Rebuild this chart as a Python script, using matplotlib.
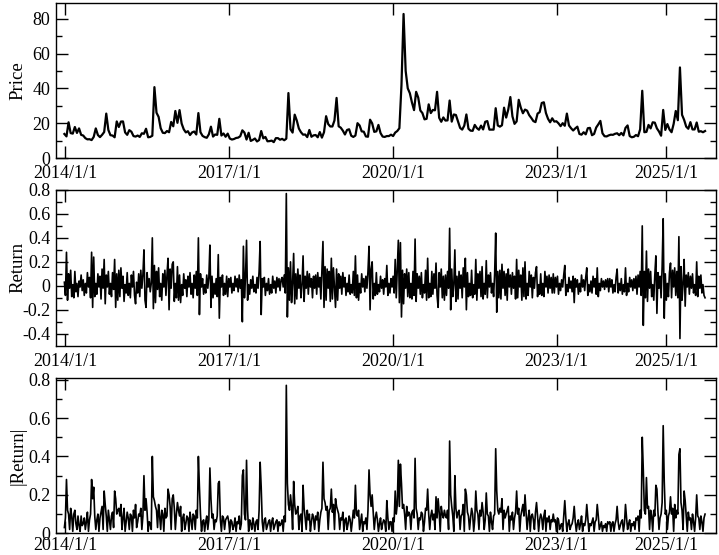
import matplotlib
matplotlib.use('Agg')
import matplotlib.pyplot as plt
import numpy as np
import pandas as pd

plt.rcParams['font.family'] = ['Liberation Serif', 'DejaVu Serif']
plt.rcParams['axes.unicode_minus'] = False

price_2014 = [13.8, 12.4, 20.5, 14.3, 14.0, 17.8, 14.4, 17.0, 13.3, 12.9, 11.4, 10.7, 10.8,
              10.3, 12.1, 17.0, 13.2, 12.0, 13.3, 14.9, 25.5, 16.1, 13.1, 12.9, 11.9, 21.0]
price_2015 = [17.8, 20.9, 21.0, 14.7, 13.3, 16.0, 15.1, 12.6, 12.3, 12.9, 12.1, 14.2, 13.9,
              16.8, 11.9, 12.1, 12.8, 40.7, 26.0, 23.6, 17.1, 14.5, 14.3, 15.5, 14.8, 20.7]
price_2016 = [18.2, 27.0, 20.2, 27.5, 19.8, 16.5, 14.7, 15.4, 13.2, 14.7, 15.2, 13.5, 25.8,
              14.8, 12.7, 12.0, 11.6, 13.6, 18.0, 12.3, 13.5, 13.3, 22.5, 12.9, 14.1, 12.2]
price_2017 = [14.0, 11.2, 10.6, 10.9, 11.5, 11.7, 12.5, 15.9, 14.6, 10.6, 14.5, 9.8, 10.4,
              11.2, 9.5, 10.3, 15.5, 11.3, 12.1, 9.6, 9.7, 10.0, 9.1, 11.4, 11.4, 10.5]
price_2018 = [11.0, 10.2, 11.1, 37.3, 16.5, 14.6, 24.9, 21.5, 16.9, 14.8, 13.4, 13.5, 12.0,
              16.1, 12.2, 13.0, 13.2, 11.9, 14.9, 11.7, 14.8, 24.0, 19.5, 18.1, 18.1, 21.6]
price_2019 = [34.5, 18.2, 17.4, 15.7, 13.5, 16.1, 16.5, 12.8, 12.1, 12.9, 20.0, 18.7, 15.3,
              15.1, 12.4, 12.2, 22.0, 19.9, 15.0, 15.3, 19.0, 14.3, 12.3, 12.1, 12.6, 12.6]
price_2020 = [13.4, 12.6, 14.6, 15.5, 17.1, 41.9, 82.7, 50.0, 40.0, 37.2, 31.9, 27.5, 38.0,
              34.7, 27.3, 25.8, 22.2, 22.5, 30.8, 25.8, 27.6, 27.4, 38.0, 23.1, 20.8, 23.3]
price_2021 = [21.5, 21.6, 33.0, 20.9, 25.0, 24.7, 21.0, 17.3, 16.3, 18.6, 25.0, 16.8, 15.7,
              15.6, 19.0, 17.2, 16.2, 18.6, 16.4, 20.8, 21.2, 16.3, 16.3, 16.3, 28.6, 18.7]
price_2022 = [18.0, 18.8, 28.9, 23.2, 27.8, 35.0, 23.9, 19.6, 21.0, 33.4, 28.9, 25.7, 27.8,
              27.2, 24.6, 23.0, 21.2, 20.6, 25.5, 26.3, 31.6, 32.0, 25.8, 22.5, 20.5, 22.8]
price_2023 = [20.9, 21.1, 19.9, 18.3, 20.0, 18.5, 25.5, 18.7, 17.1, 15.8, 17.0, 18.0, 13.8,
              13.4, 14.8, 13.6, 17.1, 17.3, 13.1, 13.8, 17.5, 19.3, 21.3, 14.2, 12.5, 12.4]
price_2024 = [13.0, 13.4, 13.3, 13.9, 14.2, 13.1, 14.4, 13.0, 17.3, 18.7, 12.6, 11.9, 12.2,
              13.2, 12.5, 16.5, 38.6, 14.8, 15.0, 19.0, 17.0, 20.5, 20.3, 17.0, 15.2, 12.8]
price_2025 = [27.6, 16.1, 19.5, 16.4, 14.8, 19.6, 27.0, 21.7, 52.0, 24.8, 21.9, 18.0, 16.8,
              20.6, 16.4, 16.4, 20.4, 15.1, 15.4, 14.8, 15.5]

# weekly return
ret_2014 = [0.03, -0.08, 0.28, -0.12, 0.10, -0.02, 0.13, -0.09, 0.01, -0.10,
            0.12, -0.05, 0.02, -0.09, 0.04, -0.01, 0.09, -0.04, 0.05, -0.08,
            0.02, -0.06, 0.11, -0.01, 0.07, -0.10, 0.28, -0.18, 0.24, -0.09,
            0.02, -0.07, 0.10, -0.01, 0.08, -0.11, 0.14, -0.02, 0.22, -0.15,
            0.09, -0.01, 0.12, -0.07, 0.02, -0.09, 0.11, -0.03, 0.22, -0.18,
            0.10, -0.12]
ret_2015 = [0.13, -0.09, 0.15, -0.02, 0.08, -0.13, 0.01, -0.06, 0.11, -0.08,
            0.02, -0.10, 0.09, -0.01, 0.12, -0.08, -0.15, 0.03, -0.06, 0.10,
            -0.09, 0.13, -0.02, 0.09, 0.30, -0.12, -0.18, 0.11, -0.01, 0.06,
            -0.05, 0.02, 0.40, -0.19, 0.17, -0.14, 0.12, -0.03, 0.15, -0.09,
            0.02, -0.12, 0.10, -0.01, 0.13, -0.08, 0.09, 0.23, -0.20, 0.14,
            -0.02, 0.18]
ret_2016 = [0.20, -0.13, 0.02, -0.10, 0.16, -0.12, 0.09, -0.14, 0.01, -0.08,
            0.10, -0.02, 0.05, -0.09, 0.08, -0.01, 0.11, -0.07, 0.02, -0.10,
            0.09, -0.02, 0.12, -0.08, 0.40, -0.24, 0.10, -0.01, 0.06, -0.07,
            0.01, -0.06, 0.09, -0.02, 0.07, 0.34, -0.18, 0.08, -0.10, 0.02,
            -0.07, 0.06, -0.09, 0.26, -0.27, 0.07, -0.01, 0.09, -0.08, 0.02,
            -0.07, 0.08]
ret_2017 = [-0.09, 0.06, -0.01, 0.07, -0.06, 0.02, -0.04, 0.08, -0.01, 0.06,
            -0.05, 0.09, -0.02, 0.05, -0.30, 0.33, -0.10, 0.07, 0.38, -0.12,
            0.01, -0.07, 0.05, -0.02, 0.08, -0.05, 0.01, -0.06, 0.07, -0.02,
            0.12, 0.37, -0.24, 0.06, -0.01, 0.07, -0.08, 0.02, -0.04, 0.06,
            -0.07, 0.01, -0.06, 0.08, -0.02, 0.04, -0.06, 0.07, -0.01, 0.06,
            -0.04, 0.05]
ret_2018 = [0.07, -0.01, 0.09, -0.06, 0.77, -0.26, 0.15, -0.12, 0.20, -0.14,
            0.02, 0.27, -0.15, 0.10, -0.11, 0.14, -0.02, 0.09, -0.10, 0.01,
            0.25, -0.13, 0.08, -0.02, 0.12, -0.07, 0.10, -0.01, 0.06, -0.10,
            0.08, -0.02, 0.09, -0.07, 0.11, -0.01, 0.07, -0.11, 0.13, 0.37,
            -0.18, 0.16, -0.12, 0.14, -0.02, 0.12, -0.13, 0.23, -0.11, 0.15,
            -0.02, -0.18]
ret_2019 = [0.14, -0.12, 0.10, -0.02, 0.08, -0.07, 0.11, -0.01, 0.07, -0.08,
            0.02, -0.05, 0.09, -0.07, 0.01, -0.06, 0.12, -0.08, 0.25, -0.10,
            0.09, -0.12, 0.02, -0.06, 0.10, -0.01, 0.06, -0.05, 0.08, -0.02,
            0.12, 0.33, -0.20, 0.14, 0.20, -0.11, 0.02, -0.08, 0.11, -0.07,
            0.01, -0.05, 0.08, -0.02, 0.05, -0.07, 0.06, -0.01, 0.17, -0.08,
            0.02, -0.06]
ret_2020 = [0.06, -0.01, 0.08, -0.06, 0.22, -0.10, 0.15, 0.38, -0.14, 0.36,
            -0.26, 0.13, -0.15, 0.10, -0.02, 0.14, -0.09, 0.11, -0.10, 0.02,
            -0.11, 0.12, -0.08, 0.39, -0.13, 0.10, -0.02, 0.08, -0.07, 0.11,
            -0.10, 0.01, -0.06, 0.13, -0.12, 0.23, -0.10, 0.02, -0.09, 0.12,
            -0.07, 0.10, -0.02, 0.19, -0.08, -0.18, 0.11, -0.01, 0.14, -0.10,
            0.08, -0.12]
ret_2021 = [0.09, -0.08, 0.12, -0.02, 0.48, -0.20, 0.14, -0.09, 0.01, 0.30,
            -0.13, 0.08, -0.11, 0.12, -0.02, 0.09, -0.10, 0.15, -0.01, 0.23,
            -0.20, 0.11, -0.09, 0.02, -0.08, 0.13, -0.10, 0.01, -0.07, 0.22,
            -0.12, 0.10, -0.02, 0.12, -0.09, 0.16, -0.11, 0.02, -0.07, 0.21,
            -0.10, 0.09, -0.01, 0.11, -0.06, 0.02, -0.09, 0.10, 0.44, -0.22,
            0.12, -0.10]
ret_2022 = [0.13, -0.11, 0.18, -0.02, 0.12, -0.08, 0.10, -0.12, 0.14, -0.01,
            0.09, -0.07, 0.11, -0.02, 0.08, -0.11, 0.22, -0.10, 0.13, -0.01,
            0.09, -0.12, 0.15, -0.09, 0.20, -0.11, 0.02, -0.08, 0.12, -0.01,
            0.09, -0.10, 0.07, -0.02, 0.11, 0.16, -0.09, 0.01, -0.07, 0.10,
            -0.08, 0.02, -0.09, 0.12, -0.01, 0.08, -0.06, 0.09, -0.02, 0.07,
            -0.06, 0.10]
ret_2023 = [-0.06, 0.07, -0.01, 0.08, -0.07, 0.02, -0.04, 0.05, -0.01, 0.09,
            0.17, -0.08, 0.01, -0.05, 0.07, -0.02, 0.04, -0.05, 0.08, -0.14,
            0.06, -0.01, 0.05, -0.07, 0.02, -0.05, 0.09, -0.01, 0.05, -0.04,
            0.07, 0.15, -0.08, 0.01, -0.05, 0.04, -0.06, 0.08, -0.01, 0.06,
            -0.07, 0.15, -0.09, 0.02, -0.04, 0.06, -0.01, 0.04, -0.03, 0.05,
            -0.01, 0.06]
ret_2024 = [-0.05, 0.06, -0.01, 0.05, -0.06, 0.01, -0.05, 0.07, 0.14, -0.06,
            0.02, -0.04, 0.06, -0.07, 0.01, -0.05, 0.15, -0.08, 0.02, -0.05,
            0.07, -0.01, 0.05, -0.04, 0.06, -0.02, 0.08, -0.07, 0.09, -0.01,
            0.12, -0.08, 0.50, -0.33, 0.12, -0.10, 0.29, -0.13, 0.14, -0.02,
            0.12, -0.09, 0.01, -0.12, 0.09, 0.25, -0.23, 0.11, -0.02, 0.08,
            -0.10, 0.16]
ret_2025 = [0.56, -0.27, 0.10, -0.12, 0.02, -0.09, 0.11, 0.19, -0.10, 0.13,
            -0.01, 0.15, -0.08, 0.12, -0.10, 0.41, -0.44, 0.16, -0.12, 0.02,
            0.22, -0.17, 0.09, -0.01, 0.11, -0.07, 0.08, -0.02, 0.10, -0.06,
            0.01, -0.08, 0.20, -0.09, 0.08, -0.02, 0.09, -0.06, 0.01, -0.08,
            -0.10]

tick_dates = ['2014-01-01', '2017-01-01', '2020-01-01', '2023-01-01', '2025-01-01']
tick_labels = ['2014/1/1', '2017/1/1', '2020/1/1', '2023/1/1', '2025/1/1']

price = np.array(price_2014 + price_2015 + price_2016 + price_2017 + price_2018 + price_2019
                 + price_2020 + price_2021 + price_2022 + price_2023 + price_2024 + price_2025)
ret = np.array(ret_2014 + ret_2015 + ret_2016 + ret_2017 + ret_2018 + ret_2019
               + ret_2020 + ret_2021 + ret_2022 + ret_2023 + ret_2024 + ret_2025)

price_dates = pd.date_range('2013-12-27', periods=len(price), freq='14D')
ret_dates = pd.date_range('2013-12-27', periods=len(ret), freq='7D')

fig = plt.figure(figsize=(7.19, 5.55), dpi=100)
ax1 = fig.add_axes([0.0779, 0.7153, 0.9179, 0.2793])
ax2 = fig.add_axes([0.0779, 0.3771, 0.9179, 0.2806])
ax3 = fig.add_axes([0.0779, 0.0391, 0.9179, 0.2804])

ax1.plot(price_dates, price, color='black', lw=1.6)
ax2.plot(ret_dates, ret, color='black', lw=1.2)
ax3.plot(ret_dates, np.abs(ret), color='black', lw=1.2)

xt = pd.to_datetime(tick_dates)
for ax in (ax1, ax2, ax3):
    ax.set_xlim(pd.Timestamp('2013-11-01'), pd.Timestamp('2025-12-01'))
    ax.set_xticks(xt)
    ax.set_xticklabels(tick_labels)
    ax.tick_params(which='both', direction='in', top=True, right=True,
                   labelsize=13, width=1, pad=4)
    ax.tick_params(axis='x', pad=5)
    ax.tick_params(which='major', length=8.5)
    ax.tick_params(which='minor', length=4.5)
    ax.tick_params(axis='x', which='minor', length=0)
    for s in ax.spines.values():
        s.set_linewidth(1.0)
# bottom panel labels sit right on the figure edge
ax3.tick_params(axis='x', pad=2.5)

ax1.set_ylim(0, 89)
ax1.set_yticks([0, 20, 40, 60, 80])
ax1.set_yticks([10, 30, 50, 70], minor=True)
ax1.set_ylabel('Price', fontsize=13.5)

ax2.set_ylim(-0.5, 0.8)
ax2.set_yticks([-0.4, -0.2, 0, 0.2, 0.4, 0.6, 0.8])
ax2.set_yticklabels(['-0.4', '-0.2', '0', '0.2', '0.4', '0.6', '0.8'])
ax2.set_yticks([-0.3, -0.1, 0.1, 0.3, 0.5, 0.7], minor=True)
ax2.set_ylabel('Return', fontsize=13.5)

ax3.set_ylim(0, 0.81)
ax3.set_yticks([0, 0.2, 0.4, 0.6, 0.8])
ax3.set_yticklabels(['0', '0.2', '0.4', '0.6', '0.8'])
ax3.set_yticks([0.1, 0.3, 0.5, 0.7], minor=True)
ax3.set_ylabel('|Return|', fontsize=13.5)

for ax in (ax1, ax2, ax3):
    ax.yaxis.set_label_coords(-0.045, 0.5)

fig.savefig('out.png', dpi=100)
